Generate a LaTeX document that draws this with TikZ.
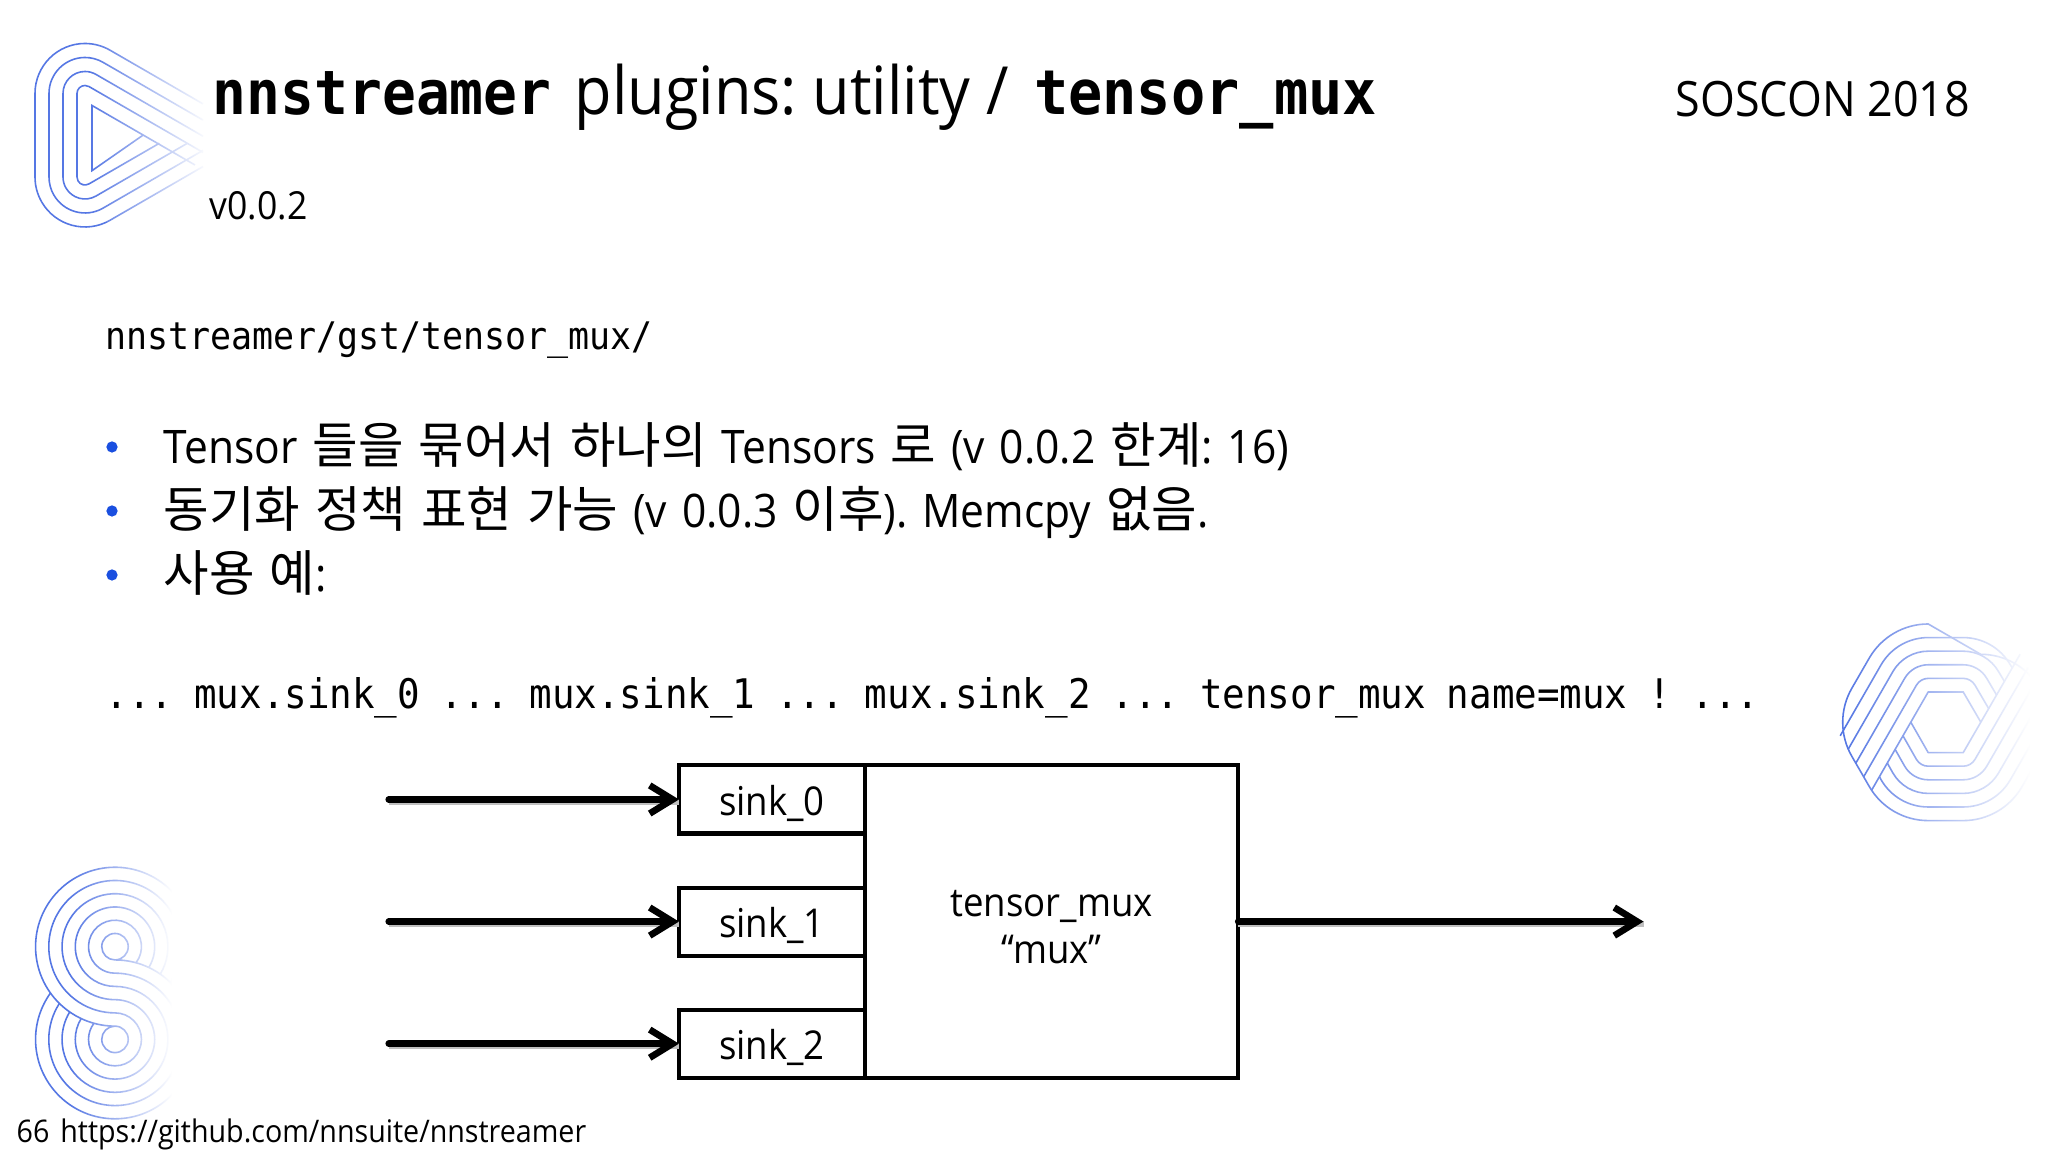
\documentclass[tikz,border=0pt]{standalone}
\usepackage{fontspec}
\setmainfont{Open Sans}[FakeStretch=0.92]
\newfontfamily\bodyfont{Open Sans}[FakeStretch=0.92, WordSpace=1.35]
\newfontfamily\monofont[FakeStretch=0.92, WordSpace=0.92]{DejaVu Sans Mono}
\newfontfamily\cjk{Noto Sans CJK KR}[Scale=1.07, WordSpace=1.35]
\usetikzlibrary{positioning,calc,arrows.meta,fadings}
\newcommand{\kr}[1]{{\cjk #1}}
\tikzfading[name=logofade, left color=transparent!100, right color=transparent!0]
\definecolor{logoblue}{HTML}{5577E4}
\definecolor{dotblue}{HTML}{1A4FE0}
\frenchspacing

\begin{document}
\begin{tikzpicture}[
    x=0.01cm, y=0.01cm,
    node distance=15.37pt,
    logoline/.style={draw=logoblue, line width=0.45pt},
    whitefade/.style={fill=white, path fading=logofade},
    textline/.style={anchor=base west, inner sep=0pt, font=\fontsize{13pt}{16pt}\selectfont},
    bodyline/.style={anchor=base west, inner sep=0pt, font=\bodyfont\fontsize{13.15pt}{16pt}\selectfont},
    codeline/.style={anchor=base west, inner sep=0pt, font=\monofont\fontsize{11.6pt}{14pt}\selectfont},
    bulletdot/.style={circle, fill=dotblue, inner sep=0pt, minimum size=3.2pt},
    sinkbox/.style={rectangle, draw, line width=1.15pt, outer sep=0pt, inner sep=0pt, text height=12pt, text depth=3pt, minimum width=1.86cm, minimum height=0.68cm, font=\fontsize{11.3pt}{14pt}\selectfont},
    muxbox/.style={rectangle, draw, line width=1.15pt, outer sep=0pt, minimum width=3.73cm, minimum height=3.13cm, align=center, font=\fontsize{11.3pt}{13.2pt}\selectfont},
    arrow/.style={line width=1.9pt, line cap=round, -{Straight Barb[length=6.5pt, width=8pt]},
        preaction={draw=black!25, line width=1.5pt, transform canvas={yshift=-0.7pt}, -}}
]
\useasboundingbox (0,0) rectangle (2048,1152);
\fill[white] (0,0) rectangle (2048,1152);

% Play logo, top left
\coordinate (tritop) at (85,1058.5);
\coordinate (tribot) at (85,975);
\draw[logoline] (143,1016.8) -- (92,981.3) -- (92,1046.5) -- (195,987);
\foreach \r in {8,22,36,50} {
    \pgfmathsetmacro\lenbot{(min(\r+\r-14+72.3,118)-0.5*\r)/0.866}
    \pgfmathsetmacro\lentop{(118-0.5*\r)/0.866}
    \draw[logoline] ($(tribot)+(300:\r)+(30:\lenbot)$) -- ($(tribot)+(300:\r)$) arc (300:180:\r)
        -- ($(tritop)+(180:\r)$) arc (180:60:\r) -- ($(tritop)+(60:\r)+(-30:\lentop)$);
}
\fill[whitefade] (90,930) rectangle (208,1125);

% Hexagon logo, right
\coordinate (hexc) at (1945.7,429.7);
\foreach \a in {0,60,...,300} \coordinate (v\a) at ($(hexc)+(\a:35)$);
\foreach \d in {0.01,13.6,27.2,40.8,54.4} {
    \draw[logoline] (intersection cs:first line={($(v120)+(150:\d)$)--($(v180)+(150:\d)$)},
            second line={($(v240)+(210:68)$)--($(v180)+(210:68)$)})
        -- ($(v120)+(150:\d)$) arc (150:90:\d) -- ($(v60)+(90:\d)$) arc (90:30:\d)
        -- (intersection cs:first line={($(v60)+(30:\d)$)--($(v0)+(30:\d)$)},
            second line={(v0)--(v300)});
    \draw[logoline] (intersection cs:first line={($(v240)+(210:\d)$)--($(v180)+(210:\d)$)},
            second line={(v120)--(v180)})
        -- ($(v240)+(210:\d)$) arc (210:270:\d) -- ($(v300)+(270:\d)$) arc (270:330:\d)
        -- (intersection cs:first line={($(v300)+(330:\d)$)--($(v0)+(330:\d)$)},
            second line={($(v60)+(30:68)$)--($(v0)+(30:68)$)});
}
\draw[logoline] ($(v0)+(30:68)$) arc (30:90:68) -- ($(v120)+(90:68)$) arc (90:150:68)
    -- ($(v180)+(150:68)$) arc (150:210:68) -- ($(v240)+(210:68)$) arc (210:270:68)
    -- ($(v300)+(270:68)$) arc (270:330:68) -- ($(v0)+(330:68)$) arc (330:390:68);
\fill[whitefade] (1845,310) rectangle (2030,550);
\fill[white] (2030,310) rectangle (2048,550);

% Eight logo, bottom left
\coordinate (upc) at (115,205.3);
\coordinate (lowc) at (115,112.6);
\foreach \k in {1,...,6} {
    \pgfmathsetmacro\ringa{13.24*\k}
    \pgfmathsetmacro\ringb{13.24*(7-\k)}
    \pgfmathsetmacro\anga{asin((6314-\ringa*\ringa-8593)/(2*\ringa*92.7))}
    \pgfmathsetmacro\angb{asin((6314-\ringb*\ringb-8593)/(2*\ringb*92.7))-180}
    \draw[logoline] ($(upc)+(\anga:\ringa)$) arc (\anga:270:\ringa) arc (90:\angb:\ringb);
}
\fill[whitefade] (70,25) rectangle (172,295);
\fill[white] (172,25) rectangle (200,295);

% Title
\node[anchor=base west, inner sep=0pt, font=\fontsize{18.9pt}{22pt}\selectfont] (title) at (212,1037)
    {{\monofont\fontsize{17.4pt}{22pt}\selectfont\bfseries nnstreamer}\hspace{2pt} plugins: utility /\hspace{2.6pt} {\monofont\fontsize{17.6pt}{22pt}\selectfont\bfseries tensor\_mux}};
\node[textline, font=\fontsize{13.85pt}{17pt}\selectfont] (event) at (1675,1035) {SOSCON 2018};
\node[textline, font=\fontsize{11pt}{14pt}\selectfont] (version) at (209,932) {v0.0.2};
\node[codeline, font=\monofont\fontsize{10.8pt}{14pt}\selectfont] (srcpath) at (105,802) {nnstreamer/gst/tensor\_mux/};

% Bullets
\node[bodyline] (line1) at (163,688) {Tensor \kr{들을 묶어서 하나의} Tensors \kr{로} (v 0.0.2 \kr{한계}: 16)};
\node[bodyline] (line2) at (163,624) {\kr{동기화 정책 표현 가능} (v 0.0.3 \kr{이후}). Memcpy \kr{없음}.};
\node[bodyline] (line3) at (163,560) {\kr{사용 예}:};
\node[bulletdot] (dot1) at (112,705) {};
\node[bulletdot] (dot2) at (112,641) {};
\node[bulletdot] (dot3) at (112,577) {};

\node[codeline] (usage) at (105,443) {... mux.sink\_0 ... mux.sink\_1 ... mux.sink\_2 ... tensor\_mux name=mux ! ...};

% Boxes
\node[sinkbox] (sink0) at (772,352.5) {sink\_0};
\node[sinkbox, below=of sink0] (sink1) {sink\_1};
\node[sinkbox, below=of sink1] (sink2) {sink\_2};
\node[muxbox, right=0pt of sink1] (mux) {\rule{0pt}{10.5pt}tensor\_mux\\“mux”};

\coordinate[left=2.9cm of sink0.west] (in0);
\coordinate[left=2.9cm of sink1.west] (in1);
\coordinate[left=2.9cm of sink2.west] (in2);
\coordinate[right=4.05cm of mux.east] (out);

\draw[arrow] (in0) -- (sink0);
\draw[arrow] (in1) -- (sink1);
\draw[arrow] (in2) -- (sink2);
\draw[arrow] (mux) -- (out);

% Footer
\node[textline, font=\fontsize{8.85pt}{12pt}\selectfont] (footer) at (16,9) {66\hspace{1pt} https://github.com/nnsuite/nnstreamer};

\end{tikzpicture}
\end{document}
